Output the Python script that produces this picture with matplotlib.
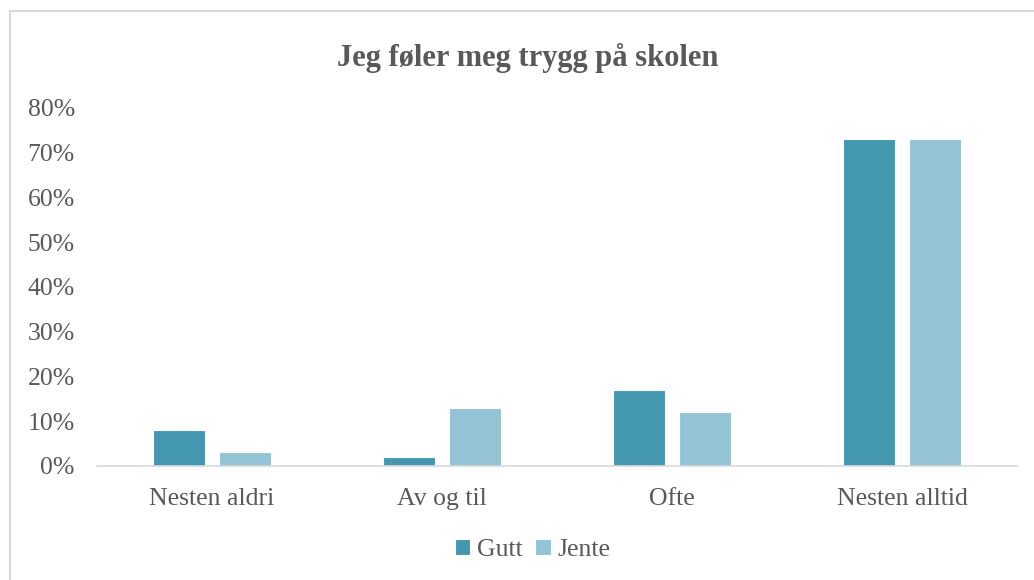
import numpy as np
import matplotlib.pyplot as plt
from matplotlib.lines import Line2D
from matplotlib.ticker import PercentFormatter

categories = ['Nesten aldri', 'Av og til', 'Ofte', 'Nesten alltid']
gutt = [8, 2, 17, 73]
jente = [3, 13, 12, 73]

plt.rcParams['font.family'] = ['Liberation Serif', 'DejaVu Serif']

fig = plt.figure(figsize=(10.34, 5.8), dpi=100)
ax = fig.add_axes([0.0938, 0.197, 0.8897, 0.617])

x = np.arange(len(categories))
w = 0.226
ax.bar(x - 0.1435, gutt, w, color='#4398AF', edgecolor='white', linewidth=0.8, label='Gutt')
ax.bar(x + 0.1435, jente, w, color='#93C3D4', edgecolor='white', linewidth=0.8, label='Jente')

ax.set_xlim(-0.5, len(categories) - 0.5)
ax.set_ylim(0, 80)
ax.set_yticks(range(0, 81, 10))
ax.yaxis.set_major_formatter(PercentFormatter(decimals=0))
ax.set_xticks(x)
ax.set_xticklabels(categories)
ax.tick_params(axis='both', length=0, labelsize=18.5, colors='#595959')
ax.tick_params(axis='y', pad=16)
ax.tick_params(axis='x', pad=16)

for s in ['top', 'right', 'left']:
    ax.spines[s].set_visible(False)
ax.spines['bottom'].set_color('#D9D9D9')
ax.spines['bottom'].set_linewidth(1.2)

fig.text(0.51, 0.9, 'Jeg føler meg trygg på skolen', ha='center', va='center',
         fontsize=22, fontweight='bold', color='#595959')

fig.legend(loc='center', bbox_to_anchor=(0.515, 0.052), ncol=2, frameon=False,
           fontsize=18.5, labelcolor='#595959', handlelength=0.6, handleheight=0.6,
           handletextpad=0.25, columnspacing=0.5)

# chart frame (left and top edges only visible)
fig.add_artist(Line2D([0.0097, 0.0097], [0.0, 0.981], transform=fig.transFigure,
                      color='#D9D9D9', linewidth=1.5))
fig.add_artist(Line2D([0.0097, 1.0], [0.981, 0.981], transform=fig.transFigure,
                      color='#D9D9D9', linewidth=1.5))

fig.savefig('out.png', dpi=100)
